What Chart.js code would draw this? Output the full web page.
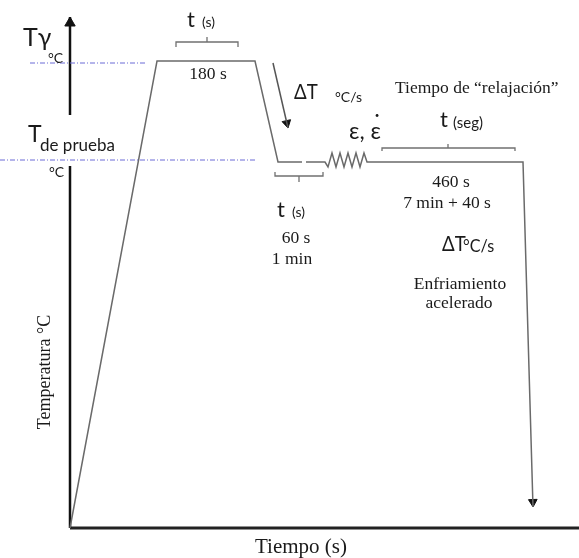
<!DOCTYPE html>
<html><head><meta charset="utf-8">
<script src="https://cdn.jsdelivr.net/npm/chart.js@4/dist/chart.umd.min.js"></script>
<style>html,body{margin:0;padding:0;background:#fff;overflow:hidden}#wrap{position:relative;width:579px;height:558px}</style>
</head><body><div id="wrap"><canvas id="c" width="579" height="558"></canvas></div>
<script>
// Schematic units: time (x) measured from the temperature axis, temperature (y) from the time axis
const heatTime = [0, 87, 185, 208, 232];
const heatTemp = [0, 467, 467, 366, 366];
const deformTime = [236, 255, 258, 262, 266, 270, 274, 278, 282, 286, 290, 294, 297, 300, 453, 463];
const deformTemp = [366, 366, 361, 375, 361, 375, 361, 375, 361, 375, 361, 375, 366, 366, 366, 21];
const tGammaTime = [-40, 75];
const tGammaTemp = [465, 465];
const tTestTime = [-70, 186];
const tTestTemp = [368, 368];
const axisUpperTime = [0, 0];
const axisUpperTemp = [413, 511];
const axisLowerTime = [0, 0];
const axisLowerTemp = [362, 0];
const axisXTime = [0, 509];
const axisXTemp = [0, 0];
const coolArrowTime = [203, 218];
const coolArrowTemp = [465, 400];
const bracketTopTime = [106, 106, 137, 137, 137, 168, 168];
const bracketTopTemp = [481, 486, 486, 491, 486, 486, 481];
const bracketLowTime = [205, 205, 229, 229, 229, 253, 253];
const bracketLowTemp = [356, 352, 352, 346, 352, 352, 356];
const bracketRelaxTime = [312, 312, 378, 378, 378, 445, 445];
const bracketRelaxTemp = [377, 380, 380, 384, 380, 380, 377];
const arrowHeadTime = [0, 216.9, 462.9];
const arrowHeadTemp = [505, 404.9, 26];
const arrowHeadAngle = [0, 167, 178];

const SANS = 'Lato, "Open Sans", sans-serif';
const SERIF = '"Liberation Serif", "Times New Roman", serif';
const S = '17.5px ' + SERIF;
const labels = [
  {t:'Tγ', x:-47, y:490, f:'25px '+SANS, a:'left'},
  {t:'°C', x:-22, y:470, f:'14px '+SANS, a:'left'},
  {t:'T', x:-42, y:393, f:'23px '+SANS, a:'left'},
  {t:'de prueba', x:-30, y:382, f:'17px '+SANS, a:'left'},
  {t:'°C', x:-21, y:356, f:'14px '+SANS, a:'left'},
  {t:'t', x:117, y:508, f:'22px '+SANS, a:'left'},
  {t:'(s)', x:132, y:506, f:'14px '+SANS, a:'left'},
  {t:'180 s', x:138, y:454, f:S, a:'center'},
  {t:'ΔT', x:224, y:436, f:'22px '+SANS, a:'left', c:0.85},
  {t:'°C/s', x:265, y:431, f:'14px '+SANS, a:'left'},
  {t:'ε, ε', x:279, y:396, f:'23px '+SANS, a:'left'},
  {t:'•', x:307, y:413, f:'8px '+SANS, a:'center'},
  {t:'Tiempo de “relajación”', x:325, y:440, f:S, a:'left'},
  {t:'t', x:370, y:408, f:'22px '+SANS, a:'left'},
  {t:'(seg)', x:383, y:405, f:'15px '+SANS, a:'left'},
  {t:'460 s', x:381, y:346, f:S, a:'center'},
  {t:'7 min + 40 s', x:377, y:325, f:S, a:'center'},
  {t:'t', x:207, y:318, f:'22px '+SANS, a:'left'},
  {t:'(s)', x:222, y:316, f:'14px '+SANS, a:'left'},
  {t:'60 s', x:226, y:290, f:S, a:'center'},
  {t:'1 min', x:222, y:269, f:S, a:'center'},
  {t:'ΔT', x:372, y:284, f:'22px '+SANS, a:'left', c:0.85},
  {t:'°C/s', x:393, y:281, f:'17px '+SANS, a:'left', c:0.95},
  {t:'Enfriamiento', x:390, y:244, f:S, a:'center'},
  {t:'acelerado', x:389, y:225, f:S, a:'center'},
  {t:'Temperatura °C', x:-25, y:156, f:'18px '+SERIF, a:'center', rot:-Math.PI/2},
  {t:'Tiempo (s)', x:231, y:-19, f:'21px '+SERIF, a:'center'}
];

const pts = (xs, ys) => xs.map((x, i) => ({x, y: ys[i]}));
const line = (xs, ys, color, width, dash) => ({
  type:'line', data: pts(xs, ys), borderColor: color, borderWidth: width,
  borderDash: dash || [], pointRadius: 0, fill: false, tension: 0, clip: false,
  borderCapStyle: 'butt', borderJoinStyle: 'miter'
});

const textPlugin = {
  id: 'schematicText',
  afterDatasetsDraw(chart) {
    const ctx = chart.ctx, sx = chart.scales.x, sy = chart.scales.y;
    ctx.save();
    ctx.fillStyle = '#1a1a1a';
    ctx.textBaseline = 'middle';
    for (const l of labels) {
      const px = sx.getPixelForValue(l.x), py = sy.getPixelForValue(l.y);
      ctx.font = l.f;
      ctx.textAlign = l.a;
      ctx.save();
      ctx.translate(px, py);
      if (l.rot) ctx.rotate(l.rot);
      if (l.c) ctx.scale(l.c, 1);
      ctx.fillText(l.t, 0, 0);
      ctx.restore();
    }
    ctx.restore();
  }
};

new Chart(document.getElementById('c'), {
  data: {
    datasets: [
      line(tGammaTime, tGammaTemp, '#6a6ad6', 1, [5, 2, 1, 2]),
      line(tTestTime, tTestTemp, '#6a6ad6', 1, [5, 2, 1, 2]),
      line(heatTime, heatTemp, '#6a6a6a', 1.5),
      line(deformTime, deformTemp, '#6a6a6a', 1.5),
      line(coolArrowTime, coolArrowTemp, '#555', 1.5),
      line(bracketTopTime, bracketTopTemp, '#707070', 1.3),
      line(bracketLowTime, bracketLowTemp, '#707070', 1.3),
      line(bracketRelaxTime, bracketRelaxTemp, '#707070', 1.3),
      line(axisUpperTime, axisUpperTemp, '#111', 2.5),
      line(axisLowerTime, axisLowerTemp, '#111', 2.5),
      line(axisXTime, axisXTemp, '#222', 2.8),
      {
        type:'scatter', data: pts(arrowHeadTime, arrowHeadTemp), pointStyle:'triangle',
        pointRadius:[6, 5, 5], pointRotation: arrowHeadAngle, backgroundColor:'#111',
        borderColor:'#111', borderWidth:1, clip:false
      }
    ]
  },
  options: {
    responsive: false, animation: false, devicePixelRatio: 1,
    layout: {padding: 0, autoPadding: false},
    plugins: {legend: {display:false}, tooltip: {enabled:false}},
    events: [],
    scales: {
      x: {type:'linear', display:false, min:-70, max:509},
      y: {type:'linear', display:false, min:-30, max:528}
    }
  },
  plugins: [textPlugin]
});
</script></body></html>
